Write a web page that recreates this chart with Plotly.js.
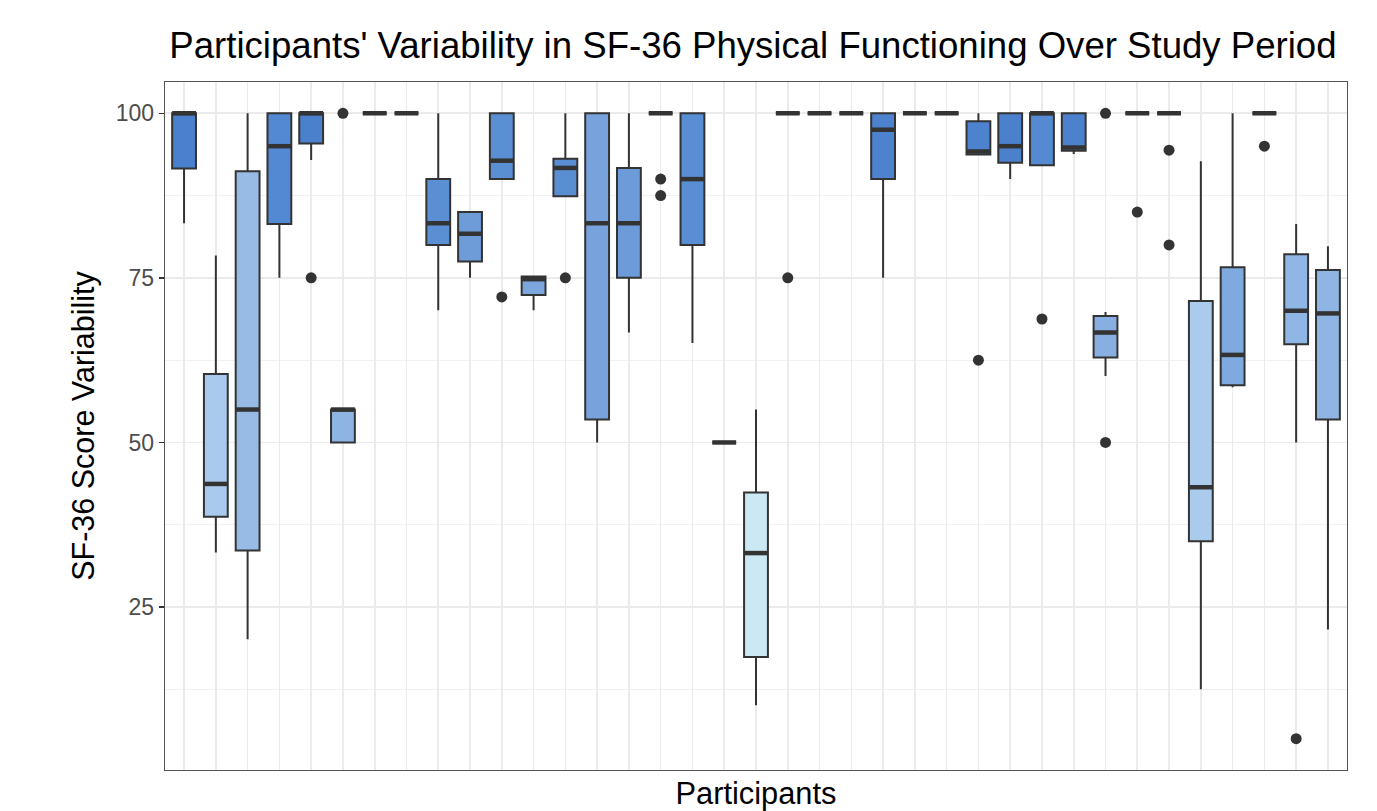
<!DOCTYPE html>
<html>
<head>
<meta charset="utf-8">
<script src="https://cdn.plot.ly/plotly-3.0.1.min.js"></script>
<style>html,body{margin:0;padding:0;background:#fff;}#chart{width:1377px;height:811px;}</style>
</head>
<body>
<div id="chart"></div>
<script>
// Participants 1..37 (x-axis has no labels)
var participants = [];
for (var k = 1; k <= 37; k++) participants.push('P' + k);

var lowerFence = [83.3, 33.3, 20.1, 75, 92.9, 50, 100, 100, 70.1, 75, 90, 70.1, 87.4, 50, 66.7, 100, 65.1, 50, 10.1, 100, 100, 100, 75, 100, 100, 93.75, 90, 92.1, 93.8, 60.1, 100, 100, 12.5, 58.4, 100, 50, 21.6];
var q1Vals     = [91.6, 38.7, 33.6, 83.2, 95.4, 50, 100, 100, 80, 77.5, 90, 72.4, 87.4, 53.5, 75, 100, 80, 50, 17.4, 100, 100, 100, 90, 100, 100, 93.75, 92.5, 92.1, 94.3, 62.9, 100, 100, 35, 58.7, 100, 64.9, 53.5];
var medianVals = [100, 43.7, 55, 95, 100, 55, 100, 100, 83.3, 81.7, 92.8, 74.8, 91.7, 83.3, 83.3, 100, 90, 50, 33.2, 100, 100, 100, 97.5, 100, 100, 94.2, 95, 100, 94.8, 66.7, 100, 100, 43.2, 63.3, 100, 70, 69.6];
var q3Vals     = [100, 60.4, 91.2, 100, 100, 55, 100, 100, 90, 85, 100, 75.2, 93.1, 100, 91.7, 100, 100, 50, 42.4, 100, 100, 100, 100, 100, 100, 98.8, 100, 100, 100, 69.2, 100, 100, 71.5, 76.6, 100, 78.6, 76.2];
var upperFence = [100, 78.4, 100, 100, 100, 55, 100, 100, 100, 85, 100, 75.2, 100, 100, 100, 100, 100, 50, 55, 100, 100, 100, 100, 100, 100, 100, 100, 100, 100, 69.8, 100, 100, 92.7, 100, 100, 83.2, 79.8];

// Outliers: participant index and value
var outlierIdx = [4, 5, 10, 12, 15, 15, 19, 25, 27, 29, 29, 30, 31, 31, 34, 35];
var outlierVal = [75, 100, 72.1, 75, 90, 87.5, 75, 62.5, 68.75, 100, 50, 85, 94.4, 80, 95, 5];

// Fill colours (continuous blue scale)
var fillColors = ['#4a80cd', '#a9caec', '#97bbe5', '#5389d2', '#4b80cd', '#8db4e3', '#4a80cd', '#4a80cd', '#5a8fd4', '#6d9cd9',
                  '#5b8fd4', '#7ba6de', '#5a8ed3', '#78a2dc', '#6d9bd9', '#4a80cd', '#5a8ed4', '#c9e6f3', '#cbe8f4', '#4a80cd',
                  '#4a80cd', '#4a80cd', '#4c82ce', '#4a80cd', '#4a80cd', '#4d83ce', '#4a80cc', '#5589d1', '#4b81cd', '#88afe1',
                  '#4a80cd', '#4a80cd', '#aacbeb', '#7faae0', '#4a80cd', '#90b6e5', '#8fb5e4'];

var FONT = '"Liberation Sans", Arial, Helvetica, sans-serif';
var traces = [];
var shapes = [];
for (var i = 0; i < participants.length; i++) {
  traces.push({
    type: 'box',
    name: participants[i],
    x: [i],
    q1: [q1Vals[i]],
    median: [medianVals[i]],
    q3: [q3Vals[i]],
    lowerfence: [lowerFence[i]],
    upperfence: [upperFence[i]],
    width: 0.75,
    whiskerwidth: 0,
    boxpoints: false,
    fillcolor: fillColors[i],
    line: {color: '#333333', width: 2},
    showlegend: false,
    hoverinfo: 'y'
  });
  shapes.push({
    type: 'line', xref: 'x', yref: 'y',
    x0: i - 0.375, x1: i + 0.375, y0: medianVals[i], y1: medianVals[i],
    line: {color: '#333333', width: 4.5}, layer: 'above'
  });
}
traces.push({
  type: 'scatter', mode: 'markers',
  x: outlierIdx, y: outlierVal,
  marker: {color: '#333333', size: 11},
  showlegend: false, hoverinfo: 'y'
});

var layout = {
  width: 1377, height: 811,
  paper_bgcolor: '#ffffff', plot_bgcolor: '#ffffff',
  margin: {l: 165, r: 30, t: 82, b: 41},
  showlegend: false,
  boxmode: 'overlay',
  font: {family: FONT, color: '#000'},
  title: {
    text: "Participants' Variability in SF-36 Physical Functioning Over Study Period",
    font: {family: FONT, size: 36.6, color: '#000'},
    x: 0.5468, xanchor: 'center', xref: 'container',
    y: 0.9445, yanchor: 'middle', yref: 'container'
  },
  xaxis: {
    range: [-0.6, 36.6],
    tickmode: 'linear', tick0: 0, dtick: 1,
    showticklabels: false, ticks: '',
    showgrid: true, gridcolor: '#ebebeb', gridwidth: 1.6,
    zeroline: false,
    showline: true, mirror: true, linecolor: '#555555', linewidth: 1.3,
    title: {text: 'Participants', font: {family: FONT, size: 30.8, color: '#000'}, standoff: 19}
  },
  yaxis: {
    range: [0.25, 104.75],
    tickmode: 'array', tickvals: [25, 50, 75, 100], ticktext: ['25', '50', '75', '100'],
    ticks: 'outside', ticklen: 5, tickwidth: 1.5, tickcolor: '#333333',
    tickfont: {family: FONT, size: 23, color: '#4d4d4d'},
    showgrid: true, gridcolor: '#ebebeb', gridwidth: 1.6,
    minor: {tickvals: [12.5, 37.5, 62.5, 87.5], showgrid: true, gridcolor: '#f0f0f0', gridwidth: 0.9, ticks: ''},
    zeroline: false,
    showline: true, mirror: true, linecolor: '#555555', linewidth: 1.3,
    title: {text: 'SF-36 Score Variability', font: {family: FONT, size: 30.5, color: '#000'}, standoff: 12}
  },
  shapes: shapes
};

Plotly.newPlot('chart', traces, layout, {displayModeBar: false, staticPlot: true});
</script>
</body>
</html>
